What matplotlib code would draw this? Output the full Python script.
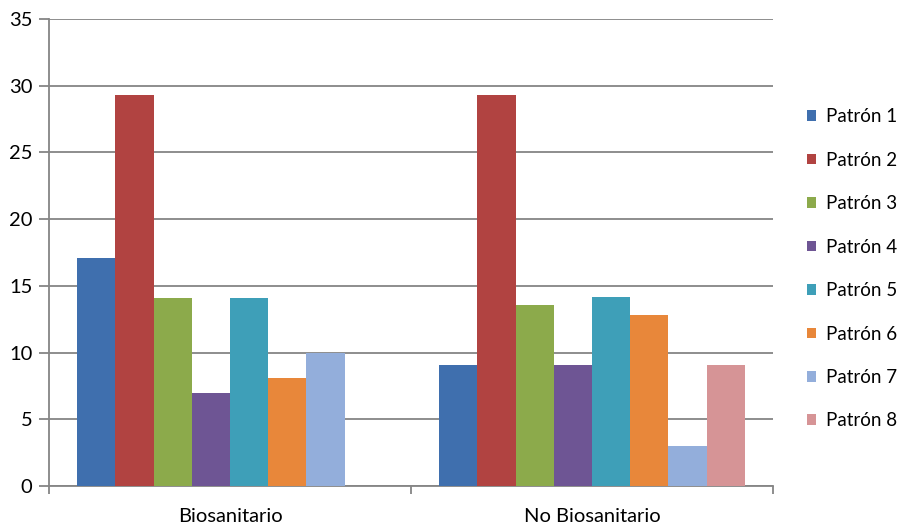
import matplotlib
matplotlib.use("Agg")
import matplotlib.pyplot as plt
import matplotlib.transforms as mtransforms
from matplotlib.patches import Patch
import numpy as np

categories = ["Biosanitario", "No Biosanitario"]
series_names = ["Patrón 1", "Patrón 2", "Patrón 3", "Patrón 4",
                "Patrón 5", "Patrón 6", "Patrón 7", "Patrón 8"]
# one row per series, one column per category
values = [
    [17.1, 9.1],
    [29.3, 29.3],
    [14.1, 13.6],
    [7.0, 9.1],
    [14.1, 14.2],
    [8.1, 12.8],
    [10.0, 3.0],
    [0.0, 9.1],
]
colors = ["#3F6FAE", "#B14341", "#8CAA4B", "#6E5594",
          "#3E9FB8", "#E8873A", "#93AEDB", "#D69496"]
y_ticks = [0, 5, 10, 15, 20, 25, 30, 35]

plt.rcParams["font.family"] = ["Lato", "DejaVu Sans"]
font_size = 14.5
legend_size = 13.5

fig = plt.figure(figsize=(8.98, 5.26), dpi=100)
ax = fig.add_axes([0.0546, 0.076, 0.8062, 0.8878])

grid_color = "#858585"
x = np.arange(len(categories))
width = 38 / 360
for i, (name, vals) in enumerate(zip(series_names, values)):
    ax.bar(x + (i - 3.5) * width, vals, width=width, color=colors[i],
           label=name, zorder=3)

ax.set_xlim(-0.5, len(categories) - 0.5)
ax.set_ylim(0, 35)
ax.set_yticks(y_ticks)
ax.set_yticklabels([str(t) for t in y_ticks], fontsize=font_size)
ax.yaxis.grid(True, color=grid_color, linewidth=1.3, zorder=0)

# nudge the value labels a little below their gridlines
shift = mtransforms.ScaledTranslation(0, -3 / 100, fig.dpi_scale_trans)
for lbl in ax.get_yticklabels():
    lbl.set_transform(lbl.get_transform() + shift)

# category labels centred, tick marks on category boundaries
ax.set_xticks(x)
ax.set_xticklabels(categories, fontsize=font_size)
ax.tick_params(axis="x", length=0, pad=16)
ax.set_xticks(np.arange(-0.5, len(categories)), minor=True)
ax.tick_params(axis="x", which="minor", length=6, width=1.3,
               color=grid_color, direction="out")
ax.tick_params(axis="y", length=7, width=1.3, color=grid_color,
               direction="out", pad=5)

for side in ("top", "right"):
    ax.spines[side].set_visible(False)
for side in ("left", "bottom"):
    ax.spines[side].set_color(grid_color)
    ax.spines[side].set_linewidth(1.3)

handles = [Patch(facecolor=c, edgecolor="none") for c in colors]
fig.legend(handles, series_names, loc="upper left",
           bbox_to_anchor=(0.8986, 0.794), frameon=False, fontsize=legend_size,
           handlelength=0.5, handleheight=0.5, handletextpad=0.5,
           labelspacing=1.41, borderpad=0, borderaxespad=0)

fig.savefig("out.png", dpi=100)
